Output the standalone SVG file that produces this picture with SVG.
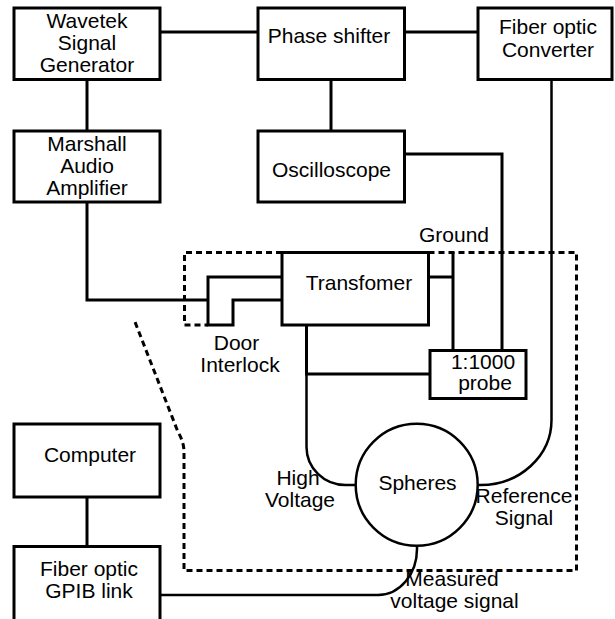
<svg xmlns="http://www.w3.org/2000/svg" width="615" height="619" viewBox="0 0 615 619">
<style>
.box{fill:#fff;stroke:#000;stroke-width:3}
.wire{fill:none;stroke:#000;stroke-width:3;stroke-linejoin:miter}
.thin{fill:none;stroke:#000;stroke-width:2.5}
.dash{fill:none;stroke:#000;stroke-width:3;stroke-dasharray:6 4}
text{font-family:"Liberation Sans",Arial,Helvetica,sans-serif;font-size:21px;fill:#000;text-anchor:middle}
</style>
<rect width="615" height="619" fill="#fff"/>
<g id="enclosure">
<path class="dash" d="M282 252.5 H184.5 V325 H208"/>
<path class="dash" d="M428.5 252.5 H576.5 V570.5 H184 V452 Q184 442 178 432 L135 322" />
</g>
<g id="connectors">
<path class="wire" d="M160 32 H258"/>
<path class="wire" d="M404.5 32 H478"/>
<path class="wire" d="M87 79.5 V131"/>
<path class="wire" d="M331 79.5 V131"/>
<path class="wire" d="M404.5 154 H502 V350.5"/>
<path class="wire" d="M87 202 V300 H208"/>
<path class="wire" d="M282 277 H208 V325 H233 V300 H282"/>
<path class="wire" d="M428.5 277 H453"/>
<path class="wire" d="M453 252 V350.5"/>
<path class="wire" d="M306.5 325 V374 H430"/>
<path class="thin" d="M306.5 374 V447 A39 38 0 0 0 345.5 485 H356"/>
<path class="thin" d="M551.5 79.5 V420 A71 65 0 0 1 480.5 485 H477"/>
<path class="thin" d="M417 546 V549 A39 46 0 0 1 378 595 H160"/>
<path class="wire" d="M87 497 V546.5"/>
</g>
<g id="wavetek"><rect class="box" x="14" y="8" width="146" height="71.5"/>
<text x="87" y="28">Wavetek</text><text x="87" y="50">Signal</text><text x="87" y="72">Generator</text></g>
<g id="phase-shifter"><rect class="box" x="258" y="8" width="146.5" height="71.5"/>
<text x="329" y="43">Phase shifter</text></g>
<g id="fiber-converter"><rect class="box" x="478" y="8" width="134" height="71.5"/>
<text x="548" y="34">Fiber optic</text><text x="548" y="57">Converter</text></g>
<g id="marshall"><rect class="box" x="14" y="131" width="146" height="71"/>
<text x="87" y="151">Marshall</text><text x="87" y="173">Audio</text><text x="87" y="195">Amplifier</text></g>
<g id="oscilloscope"><rect class="box" x="258" y="131" width="146.5" height="71"/>
<text x="331.5" y="176.5">Oscilloscope</text></g>
<g id="transformer"><rect class="box" x="282" y="252.5" width="146.5" height="72.5"/>
<text x="359" y="289.5">Transfomer</text></g>
<g id="probe"><rect class="box" x="430" y="350.5" width="96" height="48"/>
<text x="483" y="368.5">1:1000</text><text x="485" y="390">probe</text></g>
<g id="spheres"><circle cx="416.7" cy="484.7" r="61" fill="#fff" stroke="#000" stroke-width="2.5"/>
<text x="417.5" y="490">Spheres</text></g>
<g id="computer"><rect class="box" x="14" y="424" width="146" height="73"/>
<text x="90" y="462">Computer</text></g>
<g id="gpib"><rect class="box" x="14" y="546.5" width="146" height="82"/>
<text x="89" y="576">Fiber optic</text><text x="89" y="598">GPIB link</text></g>
<g id="labels">
<text x="454" y="241.5">Ground</text>
<text x="236.5" y="349.5">Door</text><text x="240" y="372">Interlock</text>
<text x="298" y="485">High</text><text x="300" y="507">Voltage</text>
<text x="524" y="503">Reference</text><text x="524" y="525">Signal</text>
<text x="452" y="586">Measured</text><text x="454.5" y="608">voltage signal</text>
</g>
</svg>
